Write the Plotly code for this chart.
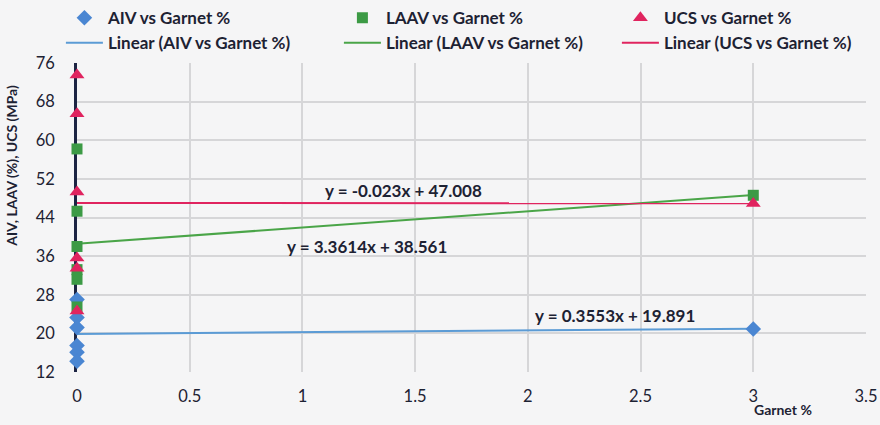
import plotly.graph_objects as go

# Garnet content (%) for each specimen
garnet_pct = [0, 0, 0, 0, 0, 0, 3]

# Test results per specimen
aiv_pct = [27.0, 23.3, 21.2, 17.5, 16.1, 14.25, 20.9]
laav_pct = [58.2, 45.3, 38.0, 33.2, 31.2, 25.47, 48.6]
ucs_mpa = [73.5, 65.5, 49.3, 35.6, 33.5, 24.65, 46.9]

# Linear trendline coefficients (slope, intercept)
series_names = ["AIV vs Garnet %", "LAAV vs Garnet %", "UCS vs Garnet %"]
trend_slope = [0.3553, 3.3614, -0.023]
trend_intercept = [19.891, 38.561, 47.008]
trend_x = [0, 3]

x_ticks = [0, 0.5, 1, 1.5, 2, 2.5, 3, 3.5]
x_tick_text = ["0", "0.5", "1", "1.5", "2", "2.5", "3", "3.5"]
y_ticks = [12, 20, 28, 36, 44, 52, 60, 68, 76]

marker_colors = ["#4a86d2", "#3c9a45", "#e0245f"]
line_colors = ["#5b9bd5", "#4aa548", "#e0245f"]
marker_symbols = ["diamond", "square", "triangle-up"]
marker_sizes = [12, 11, 13]
values = [aiv_pct, laav_pct, ucs_mpa]

FONT = "Lato"
TEXT = "#1d2233"

fig = go.Figure()

# trendlines (drawn beneath the markers, listed second in the legend)
for i, name in enumerate(series_names):
    ys = [trend_slope[i] * x + trend_intercept[i] for x in trend_x]
    fig.add_trace(go.Scatter(
        x=trend_x, y=ys, mode="lines",
        name=f"Linear ({name})",
        line=dict(color=line_colors[i], width=2),
        legendrank=10 + i, cliponaxis=False,
    ))

# measured points
for i, name in enumerate(series_names):
    fig.add_trace(go.Scatter(
        x=garnet_pct, y=values[i], mode="markers", name=name,
        marker=dict(symbol=marker_symbols[i], size=marker_sizes[i],
                    color=marker_colors[i], line=dict(width=0)),
        legendrank=1 + i, cliponaxis=False,
    ))

# trendline equations
eq_pos = [(2.387, 23.8), (1.287, 37.9), (1.45, 49.5)]
for i in range(3):
    sign = "+" if trend_intercept[i] >= 0 else "-"
    txt = f"y = {trend_slope[i]:g}x {sign} {abs(trend_intercept[i]):.3f}"
    fig.add_annotation(x=eq_pos[i][0], y=eq_pos[i][1], text=f"<b>{txt}</b>",
                       showarrow=False, xanchor="center", yanchor="middle",
                       font=dict(family=FONT, size=17, color=TEXT))

fig.add_annotation(xref="paper", yref="paper", x=-0.0825, y=0.667,
                   text="<b>AIV, LAAV (%), UCS (MPa)</b>", textangle=-90,
                   showarrow=False, xanchor="center", yanchor="middle",
                   font=dict(family=FONT, size=14, color=TEXT))
fig.add_annotation(xref="paper", yref="paper", x=0.895, y=-0.12,
                   text="<b>Garnet %</b>", showarrow=False,
                   xanchor="center", yanchor="middle",
                   font=dict(family=FONT, size=14, color=TEXT))

fig.update_layout(
    width=880, height=425,
    margin=dict(l=77, r=14, t=63, b=53, autoexpand=False),
    paper_bgcolor="#f5f5f6", plot_bgcolor="#f5f5f6",
    font=dict(family=FONT, color=TEXT),
    showlegend=True,
    legend=dict(orientation="h", x=-0.0204, xanchor="left",
                y=1.006, yanchor="bottom", entrywidth=226,
                font=dict(family=FONT, size=17, color=TEXT, weight="bold"),
                bgcolor="rgba(0,0,0,0)", itemwidth=37),
    xaxis=dict(range=[0, 3.5], tickvals=x_ticks, ticktext=x_tick_text,
               showgrid=True, gridcolor="#d6d6d8", gridwidth=1.5,
               zeroline=False, showline=False, ticks="",
               ticklabelstandoff=12,
               tickfont=dict(family=FONT, size=16.5, color=TEXT)),
    yaxis=dict(range=[12, 76], tickvals=y_ticks,
               showgrid=True, gridcolor="#d6d6d8", gridwidth=1.5,
               zeroline=False, showline=True, linecolor="#1c2443",
               linewidth=2.5, ticks="", layer="below traces",
               ticklabelstandoff=16,
               tickfont=dict(family=FONT, size=16.5, color=TEXT)),
)

fig.write_html("out.html")
